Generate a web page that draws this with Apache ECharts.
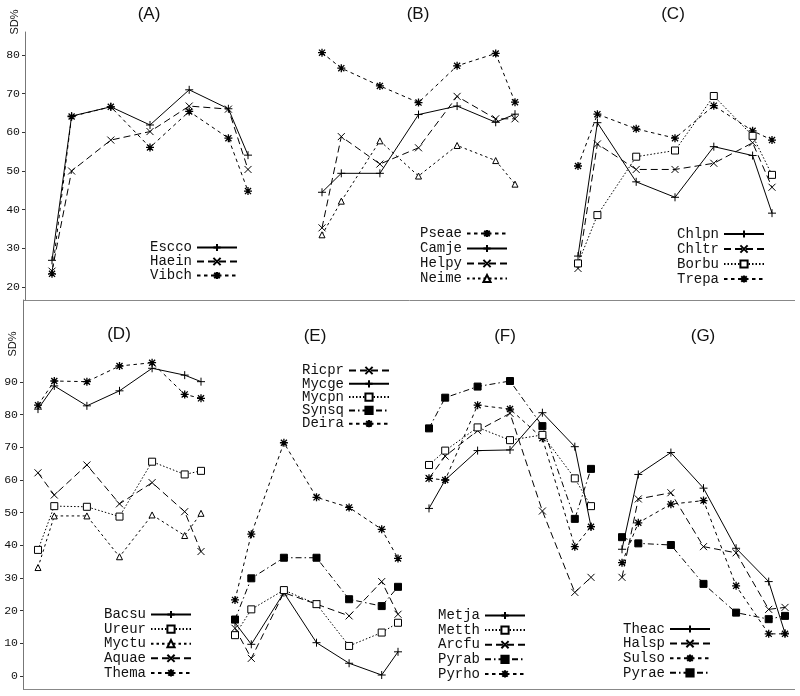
<!DOCTYPE html>
<html>
<head>
<meta charset="utf-8">
<script src="https://cdn.jsdelivr.net/npm/echarts@6/dist/echarts.min.js"></script>
<style>html,body{margin:0;padding:0;background:#fff}#main{width:800px;height:696px}</style>
</head>
<body>
<div id="main"></div>
<script>
// x positions of the 7 measurement points (uneven spacing as in the original)
const xPositions = [0, 1, 3, 5, 7, 9, 10];
const topTicks = [20, 30, 40, 50, 60, 70, 80];
const bottomTicks = [0, 10, 20, 30, 40, 50, 60, 70, 80, 90];
const panelTitles = ['(A)', '(B)', '(C)', '(D)', '(E)', '(F)', '(G)'];
const axisName = 'SD%';

// Panel A
const escco = [26.9, 64.2, 66.6, 61.9, 71.0, 66.1, 54.1];
const haein = [24.1, 50.0, 58.0, 60.2, 66.8, 66.0, 50.4];
const vibch = [23.4, 64.1, 66.6, 56.1, 65.4, 58.5, 44.8];
// Panel B
const pseae = [80.6, 76.6, 72.0, 67.7, 77.2, 80.4, 67.8];
const camje = [44.5, 49.4, 49.4, 64.6, 66.8, 62.6, 64.7];
const helpy = [35.3, 58.9, 51.8, 56.0, 69.3, 63.5, 63.5];
const neime = [33.5, 42.2, 57.8, 48.7, 56.6, 52.7, 46.6];
// Panel C
const chlpn = [28.0, 62.5, 47.2, 43.2, 56.3, 54.0, 39.1];
const chltr = [24.8, 57.0, 50.4, 50.4, 52.0, 57.3, 45.8];
const borbu = [26.1, 38.6, 53.7, 55.3, 69.4, 59.1, 49.0];
const trepa = [51.3, 64.7, 60.9, 58.5, 66.9, 60.4, 58.0];
// Panel D
const bacsu = [81.7, 88.8, 82.7, 87.3, 94.2, 92.1, 90.1];
const ureur = [38.6, 52.0, 51.8, 48.8, 65.6, 61.7, 62.8];
const myctu = [33.2, 49.0, 49.0, 36.5, 49.3, 43.0, 49.8];
const aquae = [62.2, 55.4, 64.6, 52.7, 59.2, 50.3, 38.1];
const thema = [82.9, 90.3, 90.1, 94.9, 95.9, 86.2, 85.0];
// Panel E
const ricpr = [14.6, 5.4, 25.5, 22.0, 18.4, 28.9, 18.9];
const mycge = [16.3, 9.7, 25.5, 10.2, 3.9, 0.3, 7.4];
const mycpn = [12.5, 20.4, 26.3, 22.0, 9.2, 13.3, 16.3];
const synsq = [17.3, 29.9, 36.2, 36.2, 23.5, 21.4, 27.3];
const deira = [23.3, 43.4, 71.4, 54.7, 51.6, 44.9, 36.0];
// Panel F
const metja = [51.3, 60.0, 69.0, 69.2, 80.6, 70.2, 45.7];
const metth = [64.6, 69.0, 76.1, 72.2, 73.8, 60.5, 52.0];
const arcfu = [60.5, 67.3, 75.1, 80.4, 50.5, 25.6, 30.2];
const pyrab = [75.8, 85.2, 88.6, 90.3, 76.5, 48.1, 63.4];
const pyrho = [60.5, 60.0, 82.9, 81.7, 72.8, 39.6, 45.7];
// Panel G
const theac = [38.8, 61.7, 68.4, 57.5, 39.1, 28.9, 13.1];
const halsp = [30.2, 54.2, 56.1, 39.6, 37.7, 20.4, 21.0];
const sulso = [34.7, 46.9, 52.6, 53.7, 27.6, 12.9, 12.9];
const pyrae = [42.5, 40.6, 40.1, 28.2, 19.4, 17.4, 18.4];

// ---- styles ----
const STY = {
  plus:   {symbol: 'path://M0,5L10,5M5,0L5,10', size: 8, fill: '#000', bw: 1, dash: 'solid'},
  cross:  {symbol: 'path://M0,0L10,10M10,0L0,10', size: 7, fill: '#000', bw: 1, dash: [7, 4]},
  star:   {symbol: 'path://M0,5L10,5M5,0L5,10M1.2,1.2L8.8,8.8M8.8,1.2L1.2,8.8', size: 8, fill: '#000', bw: 1.3, dash: [3.5, 3.5]},
  square: {symbol: 'rect', size: 7, fill: '#fff', bw: 1, dash: [1.5, 2]},
  fsquare:{symbol: 'rect', size: 7, fill: '#000', bw: 1, dash: [6, 3, 1.5, 3]},
  tri:    {symbol: 'triangle', size: 6, fill: '#fff', bw: 1, dash: [2.5, 3]}
};

const panels = [
  {grid: 0, series: [['Escco', escco, 'plus'], ['Haein', haein, 'cross'], ['Vibch', vibch, 'star']],
   legend: {left: 150, row: 247, gap: 0}},
  {grid: 1, series: [['Pseae', pseae, 'star'], ['Camje', camje, 'plus'], ['Helpy', helpy, 'cross'], ['Neime', neime, 'tri']],
   legend: {left: 420, row: 233, gap: 1}},
  {grid: 2, series: [['Chlpn', chlpn, 'plus'], ['Chltr', chltr, 'cross'], ['Borbu', borbu, 'square'], ['Trepa', trepa, 'star']],
   legend: {left: 677, row: 233.5, gap: 1}},
  {grid: 3, series: [['Bacsu', bacsu, 'plus'], ['Ureur', ureur, 'square'], ['Myctu', myctu, 'tri'], ['Aquae', aquae, 'cross'], ['Thema', thema, 'star']],
   legend: {left: 104, row: 614, gap: 0.6}},
  {grid: 4, series: [['Ricpr', ricpr, 'cross'], ['Mycge', mycge, 'plus'], ['Mycpn', mycpn, 'square'], ['Synsq', synsq, 'fsquare'], ['Deira', deira, 'star']],
   legend: {left: 302, row: 370, gap: -0.7}},
  {grid: 5, series: [['Metja', metja, 'plus'], ['Metth', metth, 'square'], ['Arcfu', arcfu, 'cross'], ['Pyrab', pyrab, 'fsquare'], ['Pyrho', pyrho, 'star']],
   legend: {left: 438, row: 615, gap: 0.6}},
  {grid: 6, series: [['Theac', theac, 'plus'], ['Halsp', halsp, 'cross'], ['Sulso', sulso, 'star'], ['Pyrae', pyrae, 'fsquare']],
   legend: {left: 623, row: 628.5, gap: 0.6}}
];

const TOP = {top: 32, height: 268, min: 16.64, max: 85.95};
const BOT = {top: 300, height: 389, min: -3.98, max: 115.1};
// panels A and D start at their y-axis line; x-range extended to the left accordingly
const gridBoxes = [
  {left: 25, width: 223, xmin: -1.378, r: TOP}, {left: 322, width: 193, xmin: 0, r: TOP}, {left: 578, width: 194, xmin: 0, r: TOP},
  {left: 23, width: 178, xmin: -0.92, r: BOT}, {left: 235, width: 163, xmin: 0, r: BOT}, {left: 429, width: 162, xmin: 0, r: BOT}, {left: 622, width: 163, xmin: 0, r: BOT}
];
const titlePos = [[149, 6], [418, 6], [673, 6], [119, 326], [315, 328], [505, 328], [703, 328]];

const mono = 'Liberation Mono';
const grids = [], xAxes = [], yAxes = [], series = [], legends = [], titles = [];

gridBoxes.forEach((g, i) => {
  grids.push({left: g.left, top: g.r.top, width: g.width, height: g.r.height, containLabel: false});
  xAxes.push({type: 'value', gridIndex: i, min: g.xmin, max: 10, show: false});
  const showAxis = (i === 0 || i === 3);
  const ticks = i < 3 ? topTicks : bottomTicks;
  yAxes.push({
    type: 'value', gridIndex: i, min: g.r.min, max: g.r.max, show: showAxis,
    axisLine: {show: true, onZero: false, lineStyle: {color: '#777', width: 1}},
    axisTick: {show: true, length: 3, inside: false, customValues: ticks, lineStyle: {color: '#333'}},
    axisLabel: {show: true, customValues: ticks, margin: 5, color: '#111', fontFamily: mono, fontSize: 11.5},
    splitLine: {show: false}
  });
  titles.push({text: panelTitles[i], left: titlePos[i][0], top: titlePos[i][1], textAlign: 'center', padding: 0,
    textStyle: {fontFamily: 'Liberation Sans', fontSize: 17, fontWeight: 'normal', color: '#111'}});
});

panels.forEach(p => {
  const names = [];
  p.series.forEach(([name, vals, key]) => {
    const s = STY[key];
    names.push(name);
    series.push({
      name, type: 'line', xAxisIndex: p.grid, yAxisIndex: p.grid,
      data: xPositions.map((x, k) => [x, vals[k]]),
      symbol: s.symbol, symbolSize: s.size, showSymbol: true,
      lineStyle: {color: '#000', width: 1, type: s.dash},
      itemStyle: {color: s.fill, borderColor: '#000', borderWidth: s.bw},
      animation: false, silent: true, z: key === 'square' || key === 'tri' ? 3 : 2
    });
  });
  const lh = 13;
  legends.push({
    data: names, orient: 'vertical', align: 'right', left: p.legend.left, top: p.legend.row - lh / 2,
    padding: 0, itemGap: p.legend.gap, itemWidth: 40, itemHeight: 9, selectedMode: false,
    textStyle: {fontFamily: mono, fontSize: 14, lineHeight: lh, color: '#111'}
  });
});

const option = {
  backgroundColor: '#fff',
  animation: false,
  title: titles,
  grid: grids, xAxis: xAxes, yAxis: yAxes, series, legend: legends,
  graphic: [
    {type: 'line', shape: {x1: 24, y1: 300.5, x2: 795, y2: 300.5}, style: {stroke: '#888', lineWidth: 1}, silent: true},
    {type: 'line', shape: {x1: 23, y1: 689.5, x2: 795, y2: 689.5}, style: {stroke: '#888', lineWidth: 1}, silent: true},
    {type: 'text', x: 15, y: 22, rotation: Math.PI / 2, silent: true,
     style: {text: axisName, font: '11px Liberation Sans', fill: '#111', align: 'center', verticalAlign: 'middle'}},
    {type: 'text', x: 13, y: 344, rotation: Math.PI / 2, silent: true,
     style: {text: axisName, font: '11px Liberation Sans', fill: '#111', align: 'center', verticalAlign: 'middle'}}
  ]
};
const chart = echarts.init(document.getElementById('main'), null, {renderer: 'canvas'});
chart.setOption(option);
</script>
</body>
</html>
